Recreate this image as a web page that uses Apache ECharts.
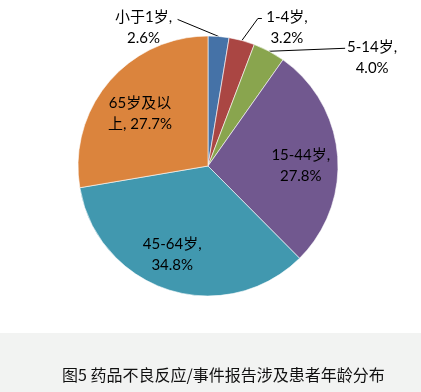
<!DOCTYPE html>
<html>
<head>
<meta charset="utf-8">
<script src="https://cdn.jsdelivr.net/npm/echarts@6/dist/echarts.min.js"></script>
<style>
html,body{margin:0;padding:0;background:#fff;}
#main{width:421px;height:392px;}
</style>
</head>
<body>
<div id="main"></div>
<script>
var categories = ['小于1岁', '1-4岁', '5-14岁', '15-44岁', '45-64岁', '65岁及以上'];
var values = [2.6, 3.2, 4.0, 27.8, 34.8, 27.7];
var colors = ['#4572a7', '#aa4643', '#89a54e', '#71588f', '#4198af', '#db843d'];
var captionText = '图5 药品不良反应/事件报告涉及患者年龄分布';

// label placement tweaks (styling only)
var outsideIdx = [0, 1, 2];
var outsideShift = { 0: { c: [-75, -9], line: [[-41, -17]] },
                     1: { c: [45, -13], line: [[16, -22], [20, -22]] },
                     2: { c: [103, 6], line: [[76, -3]] } };
var insideShift = { 3: [25, 5], 4: [-15, 24], 5: [-16, -8] };

var font = 'Lato, "Noto Sans CJK SC", sans-serif';

var data = categories.map(function (name, i) {
  var item = { name: name, value: values[i], itemStyle: { color: colors[i] } };
  if (outsideIdx.indexOf(i) >= 0) {
    item.label = { position: 'outside' };
    item.labelLine = { show: true };
  } else {
    item.label = { position: 'inside' };
    item.labelLine = { show: false };
  }
  return item;
});

function fmt(p) {
  var v = p.value.toFixed(1) + '%';
  if (p.name === '65岁及以上') return '65岁及以\n上, ' + v;
  return p.name + ',\n' + v;
}

var chart = echarts.init(document.getElementById('main'), null, { renderer: 'canvas' });
chart.setOption({
  animation: false,
  backgroundColor: '#fff',
  title: {
    text: captionText,
    left: 57,
    top: 362,
    textStyle: { fontSize: 16, fontWeight: 'normal', color: '#111', fontFamily: '"Noto Sans CJK SC", sans-serif' }
  },
  graphic: [{
    type: 'rect', z: -10, silent: true,
    shape: { x: 0, y: 333, width: 421, height: 59 },
    style: { fill: '#f2f3f2' }
  }],
  series: [{
    type: 'pie',
    center: [208, 166],
    radius: 130,
    startAngle: 90,
    clockwise: true,
    data: data,
    itemStyle: { borderColor: '#fff', borderWidth: 0.6 },
    label: {
      formatter: fmt,
      fontSize: 15,
      lineHeight: 21,
      color: '#000',
      fontFamily: font,
      align: 'center',
      overflow: 'none'
    },
    labelLine: { lineStyle: { color: '#000', width: 1 }, smooth: false },
    labelLayout: function (p) {
      var i = p.dataIndex;
      var r = p.labelRect;
      var cxL = r.x + r.width / 2, cyL = r.y + r.height / 2;
      if (outsideShift[i]) {
        var p0 = p.labelLinePoints ? p.labelLinePoints[0] : [cxL, cyL];
        var s = outsideShift[i];
        var pts = [p0.slice()];
        s.line.forEach(function (d) { pts.push([p0[0] + d[0], p0[1] + d[1]]); });
        return {
          x: p0[0] + s.c[0], y: p0[1] + s.c[1],
          align: 'center', verticalAlign: 'middle',
          labelLinePoints: pts
        };
      }
      if (insideShift[i]) {
        return { x: cxL + insideShift[i][0], y: cyL + insideShift[i][1], align: 'center', verticalAlign: 'middle' };
      }
    }
  }]
});
</script>
</body>
</html>
